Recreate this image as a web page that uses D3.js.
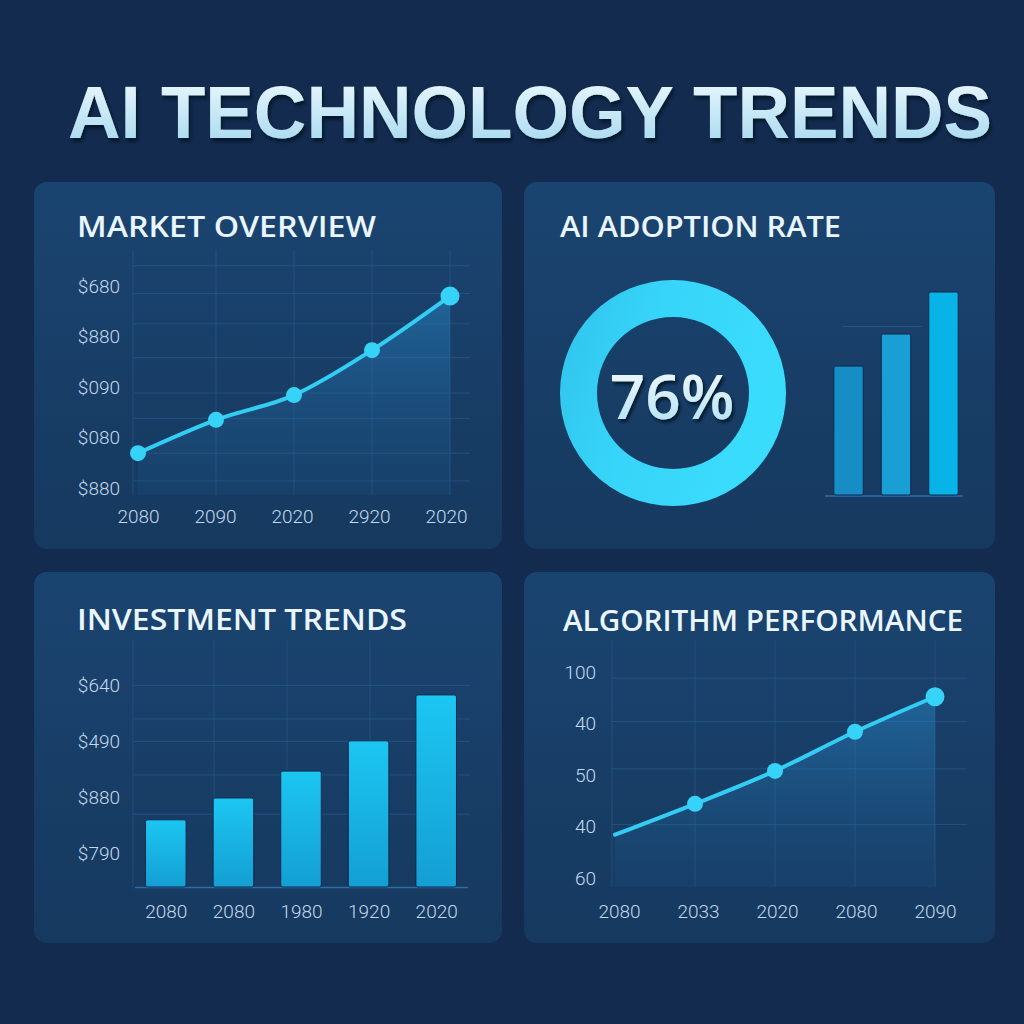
<!DOCTYPE html>
<html>
<head>
<meta charset="utf-8">
<script src="https://cdn.jsdelivr.net/npm/d3@7"></script>
<style>
  html, body { margin: 0; padding: 0; background: #132b4f; }
  svg { display: block; }
  .tick-label { font-family: Roboto, "Open Sans", sans-serif; font-size: 19px; fill: #c4d9ee; font-weight: 300; }
  .panel-title { font-family: "Open Sans", Lato, sans-serif; font-weight: 600; fill: #eaf6ff; }
</style>
</head>
<body>
<svg id="chart" width="1024" height="1024"></svg>
<script>
// Market overview (line)
const marketYears = ['2080', '2090', '2020', '2920', '2020'];
const marketValues = [69, 135, 184, 273, 380];
const marketTicks = ['$880', '$080', '$090', '$880', '$680'];

// Adoption rate
const adoptionPct = 76;
const adoptionBars = [63.5, 79.3, 100];

// Investment trends (bars)
const investYears = ['2080', '2080', '1980', '1920', '2020'];
const investValues = [120, 159, 207, 261, 343];
const investTicks = ['$790', '$880', '$490', '$640'];

// Algorithm performance (line)
const algoYears = ['2080', '2033', '2020', '2080', '2090'];
const algoValues = [21, 36, 52, 71, 88];
const algoTicks = ['60', '40', '50', '40', '100'];

const svg = d3.select('#chart');
const defs = svg.append('defs');

// Background
svg.append('rect').attr('width', 1024).attr('height', 1024).attr('fill', '#132b4f');

// Gradients
let tg = defs.append('linearGradient').attr('id', 'titleGrad').attr('x1', 0).attr('y1', 0).attr('x2', 0).attr('y2', 1);
tg.append('stop').attr('offset', '0%').attr('stop-color', '#f2fbff');
tg.append('stop').attr('offset', '100%').attr('stop-color', '#9fd6ee');

let pg = defs.append('linearGradient').attr('id', 'panelGrad').attr('x1', 0).attr('y1', 0).attr('x2', 0).attr('y2', 1);
pg.append('stop').attr('offset', '0%').attr('stop-color', '#1a4470');
pg.append('stop').attr('offset', '100%').attr('stop-color', '#16395f');

let ag = defs.append('linearGradient').attr('id', 'areaGrad').attr('x1', 0).attr('y1', 0).attr('x2', 0).attr('y2', 1);
ag.append('stop').attr('offset', '0%').attr('stop-color', '#2a8fd0').attr('stop-opacity', 0.45);
ag.append('stop').attr('offset', '100%').attr('stop-color', '#1c5a92').attr('stop-opacity', 0.15);

let bg = defs.append('linearGradient').attr('id', 'barGrad').attr('x1', 0).attr('y1', 0).attr('x2', 0).attr('y2', 1);
bg.append('stop').attr('offset', '0%').attr('stop-color', '#1cc6f2');
bg.append('stop').attr('offset', '100%').attr('stop-color', '#149fd3');

let rg = defs.append('linearGradient').attr('id', 'ringGrad').attr('x1', 0).attr('y1', 0).attr('x2', 1).attr('y2', 0.3);
rg.append('stop').attr('offset', '0%').attr('stop-color', '#30c2ec');
rg.append('stop').attr('offset', '45%').attr('stop-color', '#37d5f9');
rg.append('stop').attr('offset', '100%').attr('stop-color', '#3adcfc');

let pctg = defs.append('linearGradient').attr('id', 'pctGrad').attr('x1', 0).attr('y1', 0).attr('x2', 0).attr('y2', 1);
pctg.append('stop').attr('offset', '0%').attr('stop-color', '#ffffff');
pctg.append('stop').attr('offset', '100%').attr('stop-color', '#a9def3');

let sh = defs.append('filter').attr('id', 'shadow').attr('x', '-5%').attr('y', '-20%').attr('width', '110%').attr('height', '150%');
sh.append('feDropShadow').attr('dx', 2).attr('dy', 3).attr('stdDeviation', 1.5).attr('flood-color', '#06142a').attr('flood-opacity', 0.9);

// Main title (slightly stretched vertically to mimic a condensed face)
svg.append('g').attr('transform', 'translate(68,138) scale(1,1.13)')
  .append('text')
  .attr('x', 0).attr('y', 0)
  .attr('textLength', 924).attr('lengthAdjust', 'spacingAndGlyphs')
  .attr('font-family', '"Liberation Sans Narrow", "Liberation Sans", Arial, sans-serif')
  .attr('font-weight', 700).attr('font-size', 66)
  .attr('fill', 'url(#titleGrad)').attr('filter', 'url(#shadow)')
  .text('AI TECHNOLOGY TRENDS');

// Panels
const panels = [
  { x: 34, y: 182, w: 468, h: 367, title: 'MARKET OVERVIEW', tx: 77, ty: 237, tw: 299 },
  { x: 524, y: 182, w: 471, h: 367, title: 'AI ADOPTION RATE', tx: 560, ty: 237, tw: 281 },
  { x: 34, y: 572, w: 468, h: 371, title: 'INVESTMENT TRENDS', tx: 77, ty: 630, tw: 330 },
  { x: 524, y: 572, w: 471, h: 371, title: 'ALGORITHM PERFORMANCE', tx: 563, ty: 631, tw: 400 },
];
panels.forEach(p => {
  svg.append('rect')
    .attr('x', p.x).attr('y', p.y).attr('width', p.w).attr('height', p.h)
    .attr('rx', 13).attr('fill', 'url(#panelGrad)');
  svg.append('text').classed('panel-title', true)
    .attr('x', p.tx).attr('y', p.ty)
    .attr('font-size', 28)
    .attr('textLength', p.tw).attr('lengthAdjust', 'spacingAndGlyphs')
    .text(p.title);
});

const gridColor = '#2a5a8a';

//********************** Line charts (market overview, algorithm performance)
function lineChart(opts) {
  const g = svg.append('g');
  const idx = d3.range(opts.years.length);
  const x = d3.scalePoint().domain(idx).range(opts.xRange);
  const y = d3.scaleLinear().domain(opts.yDomain).range(opts.yRange);
  const base = y(opts.yDomain[0]) + opts.bottomPad;

  // horizontal grid
  g.selectAll('.hgrid').data(opts.gridValues).enter().append('line')
    .attr('x1', opts.plotLeft).attr('x2', opts.plotRight)
    .attr('y1', d => y(d)).attr('y2', d => y(d))
    .attr('stroke', gridColor).attr('stroke-opacity', 0.7).attr('stroke-width', 1);
  // vertical grid
  g.selectAll('.vgrid').data(idx).enter().append('line')
    .attr('x1', i => i === 0 ? opts.plotLeft : x(i)).attr('x2', i => i === 0 ? opts.plotLeft : x(i))
    .attr('y1', opts.plotTop).attr('y2', base)
    .attr('stroke', gridColor).attr('stroke-opacity', 0.7).attr('stroke-width', 1);

  const pts = opts.values.map((v, i) => [x(i), y(v)]);

  const area = d3.area().x(d => d[0]).y0(base).y1(d => d[1]).curve(d3.curveMonotoneX);
  g.append('path').datum(pts).attr('d', area).attr('fill', 'url(#areaGrad)');

  const line = d3.line().x(d => d[0]).y(d => d[1]).curve(d3.curveMonotoneX);
  g.append('path').datum(pts).attr('d', line)
    .attr('fill', 'none').attr('stroke', '#33cdf3').attr('stroke-width', 4).attr('stroke-linecap', 'round');

  const dots = pts.filter((d, i) => i >= opts.dotFrom);
  g.selectAll('.dot').data(dots).enter().append('circle')
    .attr('cx', d => d[0]).attr('cy', d => d[1])
    .attr('r', (d, i) => i === dots.length - 1 ? 9.5 : 8)
    .attr('fill', '#36d2f7');

  // y axis labels
  const yAxis = d3.axisLeft(y).tickValues(opts.tickValues)
    .tickFormat((d, i) => opts.tickLabels[i]).tickSize(0).tickPadding(0);
  const ya = g.append('g').attr('transform', `translate(${opts.labelRight},0)`).call(yAxis);
  ya.select('.domain').remove();
  ya.selectAll('text').attr('class', 'tick-label').attr('font-family', null).attr('font-size', null);

  // x axis labels
  const xl = d3.scalePoint().domain(idx).range(opts.xLabelRange);
  const xAxis = d3.axisBottom(xl).tickFormat(i => opts.years[i]).tickSize(0).tickPadding(0);
  const xa = g.append('g').attr('transform', `translate(0,${opts.xLabelY})`).call(xAxis);
  xa.select('.domain').remove();
  xa.selectAll('text').attr('class', 'tick-label').attr('font-family', null).attr('font-size', null)
    .attr('dy', '0.35em').attr('y', 0);
}

lineChart({
  years: marketYears, values: marketValues,
  xRange: [138, 450], yDomain: [0, 400], yRange: [488, 286],
  tickValues: [0, 100, 200, 300, 400], tickLabels: marketTicks,
  gridValues: [14, 69, 138, 188, 258, 325, 385, 440],
  plotLeft: 133, plotRight: 470, plotTop: 250, bottomPad: 7,
  labelRight: 120, xLabelY: 516, xLabelRange: [138, 446], dotFrom: 0,
});

lineChart({
  years: algoYears, values: algoValues,
  xRange: [615, 935], yDomain: [0, 100], yRange: [878, 672],
  tickValues: [0, 25, 50, 75, 100], tickLabels: algoTicks,
  gridValues: [26, 53, 76, 97],
  plotLeft: 612, plotRight: 967, plotTop: 640, bottomPad: 9,
  labelRight: 596, xLabelY: 911, xLabelRange: [619, 935], dotFrom: 1,
});

//********************** Investment trends
(function () {
  const g = svg.append('g');
  const x = d3.scaleBand().domain(d3.range(investYears.length)).range([132, 470]).paddingInner(0.4).paddingOuter(0.2);
  const y = d3.scaleLinear().domain([0, 400]).range([887, 663]);

  [360, 300, 260, 200, 130].forEach(v => {
    g.append('line').attr('x1', 133).attr('x2', 470).attr('y1', y(v)).attr('y2', y(v))
      .attr('stroke', gridColor).attr('stroke-opacity', 0.7);
  });
  [133, 214, 287, 370].forEach(px => {
    g.append('line').attr('x1', px).attr('x2', px).attr('y1', 640).attr('y2', 887)
      .attr('stroke', gridColor).attr('stroke-opacity', 0.6);
  });
  g.append('line').attr('x1', 135).attr('x2', 468).attr('y1', 887.5).attr('y2', 887.5)
    .attr('stroke', '#2f6ea5').attr('stroke-width', 1.5);

  g.selectAll('.bar').data(investValues).enter().append('rect')
    .attr('x', (d, i) => x(i)).attr('width', x.bandwidth())
    .attr('y', d => y(d)).attr('height', d => y(0) - y(d))
    .attr('rx', 2).attr('fill', 'url(#barGrad)')
    .attr('stroke', '#0d2a4e').attr('stroke-width', 1);

  const yAxis = d3.axisLeft(y).tickValues([60, 160, 260, 360])
    .tickFormat((d, i) => investTicks[i]).tickSize(0).tickPadding(0);
  const ya = g.append('g').attr('transform', 'translate(120,0)').call(yAxis);
  ya.select('.domain').remove();
  ya.selectAll('text').attr('class', 'tick-label').attr('font-family', null).attr('font-size', null);

  const xl = d3.scalePoint().domain(d3.range(investYears.length)).range([x(0) + x.bandwidth() / 2, x(4) + x.bandwidth() / 2]);
  const xAxis = d3.axisBottom(xl).tickFormat(i => investYears[i]).tickSize(0).tickPadding(0);
  const xa = g.append('g').attr('transform', 'translate(0,911)').call(xAxis);
  xa.select('.domain').remove();
  xa.selectAll('text').attr('class', 'tick-label').attr('font-family', null).attr('font-size', null)
    .attr('dy', '0.35em').attr('y', 0);
})();

//********************** Adoption rate
(function () {
  const g = svg.append('g').attr('transform', 'translate(673,393)');
  const arc = d3.arc().innerRadius(76).outerRadius(113);
  const pie = d3.pie().sort(null)([100]);
  g.selectAll('path').data(pie).enter().append('path')
    .attr('d', arc).attr('fill', 'url(#ringGrad)');
  g.append('text')
    .attr('x', -1).attr('y', 26)
    .attr('text-anchor', 'middle')
    .attr('font-family', '"Open Sans", sans-serif').attr('font-weight', 600)
    .attr('font-size', 62).attr('fill', 'url(#pctGrad)')
    .attr('filter', 'url(#shadow)')
    .text(adoptionPct + '%');

  const bx = d3.scaleBand().domain(d3.range(adoptionBars.length)).range([830, 962]).paddingInner(0.38).paddingOuter(0.08);
  const by = d3.scaleLinear().domain([0, 100]).range([495, 292]);
  const colors = ['#178dc6', '#1a9fd5', '#07b3e7'];
  svg.append('line').attr('x1', 843).attr('x2', 922).attr('y1', by(83)).attr('y2', by(83))
    .attr('stroke', gridColor).attr('stroke-opacity', 0.8);
  svg.append('line').attr('x1', 825).attr('x2', 963).attr('y1', 496).attr('y2', 496)
    .attr('stroke', '#2f6ea5').attr('stroke-width', 1.5);
  svg.selectAll('.abar').data(adoptionBars).enter().append('rect')
    .attr('x', (d, i) => bx(i)).attr('width', bx.bandwidth())
    .attr('y', d => by(d)).attr('height', d => by(0) - by(d))
    .attr('rx', 2).attr('fill', (d, i) => colors[i])
    .attr('stroke', '#0d2a4e').attr('stroke-width', 1);
})();
</script>
</body>
</html>
